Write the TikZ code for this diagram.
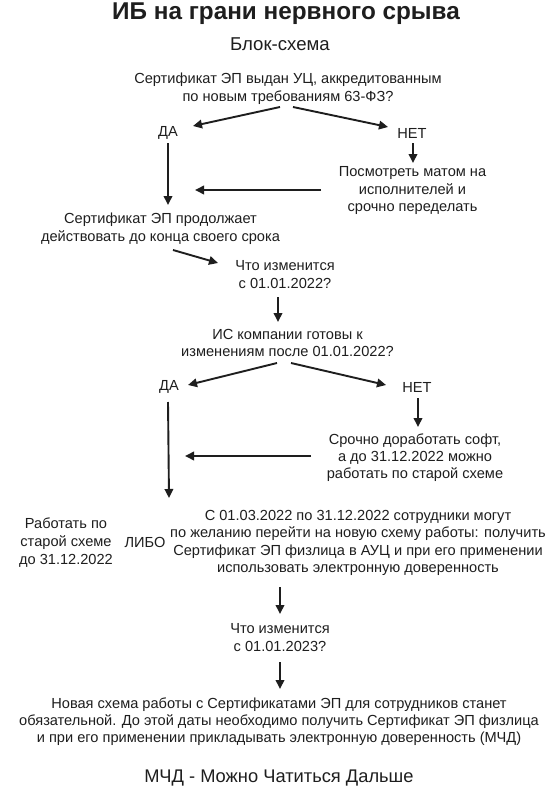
\documentclass[tikz,border=0pt]{standalone}
\usepackage{fontspec}
\setmainfont{Liberation Sans}
\usetikzlibrary{arrows.meta}
\definecolor{ink}{HTML}{1E1E1E}
\tikzset{
  txt/.style={inner sep=0pt, align=center, text=ink, font=\fontsize{14.6}{17.6}\selectfont},
  arr/.style={draw=ink, line width=1.9pt, -{Triangle[length=9pt,width=8.5pt]}}
}
\begin{document}
\begin{tikzpicture}[x=1pt,y=-1pt]
\useasboundingbox[fill=white] (0,0) rectangle (556,800);
\node[txt, font=\bfseries\fontsize{24.3}{28}\selectfont] (title) at (286,14) {ИБ на грани нервного срыва};
\node[txt, font=\fontsize{18.6}{22}\selectfont] (sub) at (280,44) {Блок-схема};
\node[txt] (q1) at (288,89) {Сертификат ЭП выдан УЦ, аккредитованным\\по новым требованиям 63-ФЗ?};
\node[txt] (da1) at (168,133) {ДА};
\node[txt] (net1) at (412,133) {НЕТ};
\node[txt] (fix1) at (412.5,190.5) {Посмотреть матом на\\исполнителей и\\срочно переделать};
\node[txt] (cont) at (160.5,229) {Сертификат ЭП продолжает\\действовать до конца своего срока};
\node[txt] (w22) at (285,274.5) {Что изменится\\с 01.01.2022?};
\node[txt] (q2) at (287.5,343) {ИС компании готовы к\\изменениям после 01.01.2022?};
\node[txt] (da2) at (169,387) {ДА};
\node[txt] (net2) at (417,387) {НЕТ};
\node[txt, font=\fontsize{14.6}{17}\selectfont] (fix2) at (415,457.5) {Срочно доработать софт,\\а до 31.12.2022 можно\\работать по старой схеме};
\node[txt] (old) at (66,542.5) {Работать по\\старой схеме\\до 31.12.2022};
\node[txt] (libo) at (145,542) {ЛИБО};
\node[txt, font=\fontsize{14.6}{17.2}\selectfont] (new) at (358,543) {С 01.03.2022 по 31.12.2022 сотрудники могут\\по желанию перейти на новую схему работы: получить\\Сертификат ЭП физлица в АУЦ и при его применении\\использовать электронную доверенность};
\node[txt] (w23) at (280,637.5) {Что изменится\\с 01.01.2023?};
\node[txt, font=\fontsize{14.6}{16.8}\selectfont] (fin) at (279,721.5) {Новая схема работы с Сертификатами ЭП для сотрудников станет\\обязательной. До этой даты необходимо получить Сертификат ЭП физлица\\и при его применении прикладывать электронную доверенность (МЧД)};
\node[txt, font=\fontsize{18.3}{22}\selectfont] (mchd) at (279,778) {МЧД - Можно Чатиться Дальше};
% connector end points
\coordinate (a1s) at (280,107); \coordinate (a1e) at (193,126);
\coordinate (a2s) at (293,107); \coordinate (a2e) at (388,127);
\coordinate (a3s) at (168,143); \coordinate (a3e) at (168,205);
\coordinate (a4s) at (413,143); \coordinate (a4e) at (413,163);
\coordinate (a5s) at (321,190); \coordinate (a5e) at (195,190);
\coordinate (a6s) at (173,250); \coordinate (a6e) at (218,263);
\coordinate (a7s) at (278,297); \coordinate (a7e) at (278,322);
\coordinate (a8s) at (277,363); \coordinate (a8e) at (188,385);
\coordinate (a9s) at (291,363); \coordinate (a9e) at (386,385);
\coordinate (a10s) at (418,398); \coordinate (a10e) at (418,427);
\coordinate (a11s) at (311,456); \coordinate (a11e) at (185,456);
\coordinate (a12s) at (168,402); \coordinate (a12e) at (169,498);
\coordinate (a13s) at (280,587); \coordinate (a13e) at (280,614);
\coordinate (a14s) at (280,662); \coordinate (a14e) at (280,689);
\draw[arr] (a1s) -- (a1e);
\draw[arr] (a2s) -- (a2e);
\draw[arr] (a3s) -- (a3e);
\draw[arr] (a4s) -- (a4e);
\draw[arr] (a5s) -- (a5e);
\draw[arr] (a6s) -- (a6e);
\draw[arr] (a7s) -- (a7e);
\draw[arr] (a8s) -- (a8e);
\draw[arr] (a9s) -- (a9e);
\draw[arr] (a10s) -- (a10e);
\draw[arr] (a11s) -- (a11e);
\draw[arr] (a12s) -- (a12e);
\draw[arr] (a13s) -- (a13e);
\draw[arr] (a14s) -- (a14e);
\end{tikzpicture}
\end{document}
